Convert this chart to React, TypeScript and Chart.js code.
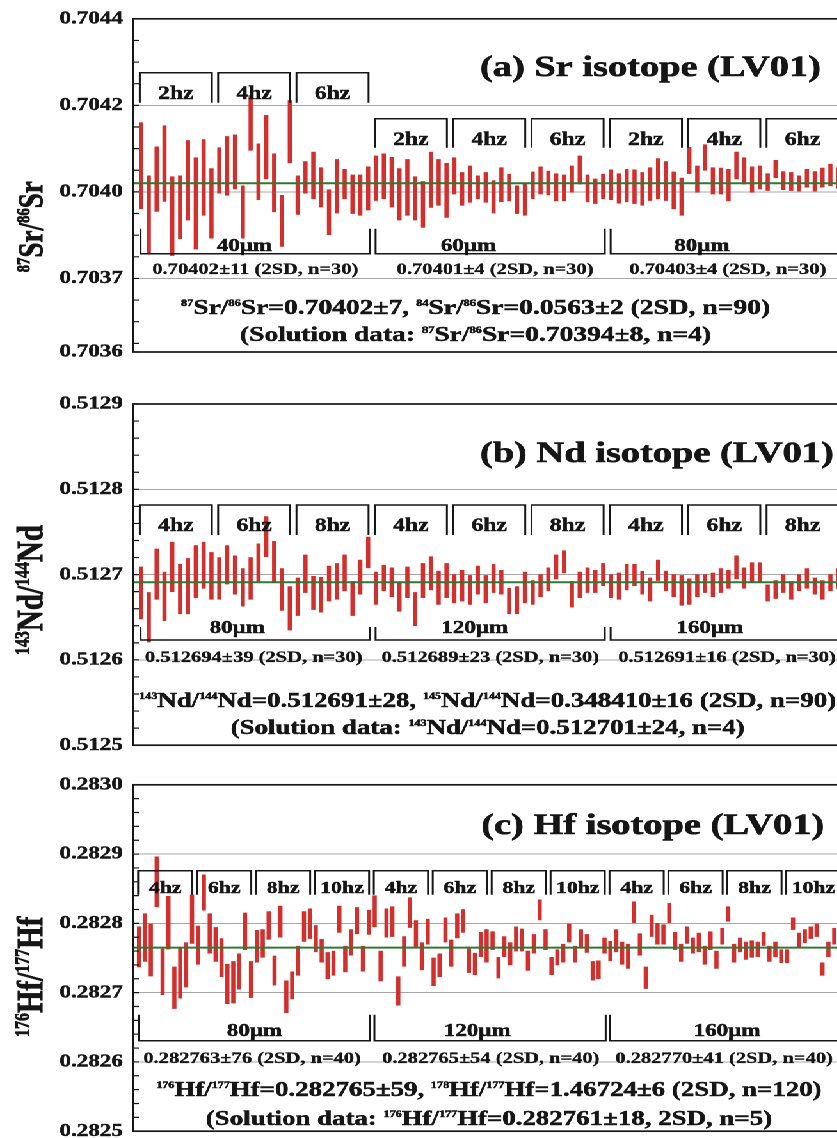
import React, { useEffect, useRef } from 'react';
import { Chart, registerables } from 'chart.js';

Chart.register(...registerables);

const SERIF = "'Liberation Serif', 'Times New Roman', Times, serif";
const INK = '#161616';
const RED = '#d32f2d';
const GREEN = '#2b7a33';
const GRID = '#a6a6a6';

// The whole sheet is drawn in a narrow coordinate system and widened horizontally.
const X_STRETCH = 1.28;
const PAGE_W = 837;
const PAGE_H = 1138;
const SHEET_W = 672;
const PLOT_LEFT = 104;
const PLOT_RIGHT_PAD = 11;

const TICK_SIZE = 18;
const TITLE_SIZE = 30;
const STATS_SIZE = 16;
const SPOT_SIZE = 18;

// ---------------- (a) Sr ----------------
const SR_RATES = ['2hz', '4hz', '6hz'];
const SR_SPOTS = ['40μm', '60μm', '80μm'];
const SR_STATS = ['0.70402±11 (2SD, n=30)', '0.70401±4 (2SD, n=30)', '0.70403±4 (2SD, n=30)'];
const SR_MEAN = 0.70402;
const SR_TICK_VALUES = [0.7044, 0.7042, 0.704, 0.7038, 0.70363];
const SR_TICK_LABELS = ['0.7044', '0.7042', '0.7040', '0.7037', '0.7036'];
const SR_GRID = [0.7042, 0.704, 0.7038];
const SR_LOW = [
  0.703961, 0.703859, 0.703955, 0.703978, 0.703853, 0.703892, 0.703935, 0.703868, 0.703946, 0.703893,
  0.703997, 0.703992, 0.704007, 0.703893, 0.704096, 0.703982, 0.70403, 0.703954, 0.703874, 0.704067,
  0.703948, 0.703997, 0.703984, 0.703965, 0.703901, 0.703951, 0.703984, 0.70395, 0.703946, 0.703958,
  0.70398, 0.703984, 0.703965, 0.703935, 0.703946, 0.703935, 0.703918, 0.703964, 0.703969, 0.703941,
  0.703995, 0.703969, 0.703976, 0.703984, 0.703976, 0.703951, 0.703977, 0.703979, 0.70395, 0.703946,
  0.703984, 0.703995, 0.703993, 0.703979, 0.703979, 0.703999, 0.704018, 0.703977, 0.703973, 0.703984,
  0.703982, 0.703974, 0.703977, 0.703973, 0.703969, 0.70398, 0.703984, 0.70398, 0.703961, 0.703946,
  0.704042, 0.703999, 0.70405, 0.703995, 0.703995, 0.703979, 0.70403, 0.704018, 0.703999, 0.704007,
  0.704003, 0.704033, 0.704005, 0.704003, 0.704002, 0.704011, 0.704002, 0.704011, 0.704014, 0.704008,
];
const SR_HIGH = [
  0.70416, 0.704037, 0.704104, 0.704153, 0.704035, 0.704037, 0.704119, 0.704079, 0.704121, 0.704054,
  0.704102, 0.704128, 0.704132, 0.704014, 0.704223, 0.704111, 0.704177, 0.704088, 0.703992, 0.704211,
  0.704037, 0.70407, 0.704092, 0.704056, 0.704005, 0.704075, 0.704052, 0.704039, 0.704039, 0.704058,
  0.704083, 0.704088, 0.70408, 0.704054, 0.704075, 0.704035, 0.704024, 0.704092, 0.704075, 0.704066,
  0.704079, 0.704045, 0.70406, 0.704037, 0.704045, 0.704026, 0.704056, 0.704041, 0.704014, 0.704018,
  0.704046, 0.704058, 0.704048, 0.704042, 0.704039, 0.70406, 0.704083, 0.704039, 0.70403, 0.704041,
  0.704051, 0.704042, 0.704052, 0.704051, 0.704045, 0.704056, 0.704077, 0.70407, 0.704046, 0.704032,
  0.704103, 0.70406, 0.704109, 0.704056, 0.704055, 0.704052, 0.704092, 0.704079, 0.704058, 0.70406,
  0.704042, 0.704073, 0.704047, 0.704045, 0.704037, 0.704052, 0.704047, 0.704055, 0.704064, 0.704056,
];

// ---------------- (b) Nd ----------------
const ND_RATES = ['4hz', '6hz', '8hz'];
const ND_SPOTS = ['80μm', '120μm', '160μm'];
const ND_STATS = ['0.512694±39 (2SD, n=30)', '0.512689±23 (2SD, n=30)', '0.512691±16 (2SD, n=30)'];
const ND_MEAN = 0.512691;
const ND_TICK_VALUES = [0.5129, 0.5128, 0.5127, 0.5126, 0.5125];
const ND_TICK_LABELS = ['0.5129', '0.5128', '0.5127', '0.5126', '0.5125'];
const ND_GRID = [0.5128, 0.5127, 0.5126];
const ND_LOW = [
  0.512648, 0.512621, 0.512671, 0.512646, 0.51268, 0.512654, 0.512654, 0.512673, 0.512684, 0.512671,
  0.512671, 0.512689, 0.512677, 0.512663, 0.512671, 0.512692, 0.512721, 0.512692, 0.512658, 0.512635,
  0.512652, 0.512679, 0.512659, 0.512656, 0.512669, 0.512671, 0.512681, 0.512652, 0.512677, 0.512708,
  0.512665, 0.512681, 0.512674, 0.512657, 0.512673, 0.51264, 0.512673, 0.512682, 0.512665, 0.512673,
  0.512667, 0.512669, 0.512665, 0.512677, 0.512667, 0.512679, 0.512677, 0.512654, 0.512654, 0.512667,
  0.512665, 0.512674, 0.512681, 0.512695, 0.512702, 0.512662, 0.512673, 0.512679, 0.512679, 0.512687,
  0.512673, 0.512671, 0.512682, 0.512687, 0.512677, 0.512669, 0.512693, 0.512681, 0.512674, 0.512664,
  0.512665, 0.512674, 0.512679, 0.512674, 0.512679, 0.512684, 0.512695, 0.512684, 0.512692, 0.512691,
  0.512669, 0.512672, 0.512679, 0.512671, 0.512681, 0.512684, 0.512677, 0.512671, 0.512681, 0.512684,
];
const ND_HIGH = [
  0.512709, 0.512679, 0.51273, 0.512703, 0.512738, 0.512712, 0.512719, 0.512734, 0.512738, 0.512726,
  0.51272, 0.512734, 0.512722, 0.512707, 0.51272, 0.512736, 0.512768, 0.512739, 0.512707, 0.512686,
  0.512696, 0.512723, 0.512698, 0.512697, 0.51271, 0.512713, 0.512723, 0.512692, 0.512717, 0.512744,
  0.512703, 0.512711, 0.512708, 0.512691, 0.512709, 0.512679, 0.512713, 0.512721, 0.512704, 0.512713,
  0.5127, 0.512705, 0.512699, 0.51271, 0.512699, 0.512712, 0.512705, 0.512684, 0.512686, 0.512703,
  0.512693, 0.5127, 0.512708, 0.512723, 0.512728, 0.512692, 0.512703, 0.512708, 0.512705, 0.512713,
  0.5127, 0.512702, 0.512712, 0.512712, 0.512704, 0.512696, 0.512717, 0.512704, 0.5127, 0.512699,
  0.512695, 0.5127, 0.5127, 0.512702, 0.512707, 0.512705, 0.512722, 0.512708, 0.512714, 0.512714,
  0.512688, 0.512693, 0.5127, 0.512692, 0.5127, 0.512707, 0.512696, 0.512693, 0.5127, 0.512707,
];

// ---------------- (c) Hf ----------------
const HF_RATES = ['4hz', '6hz', '8hz', '10hz'];
const HF_SPOTS = ['80μm', '120μm', '160μm'];
const HF_STATS = ['0.282763±76 (2SD, n=40)', '0.282765±54 (2SD, n=40)', '0.282770±41 (2SD, n=40)'];
const HF_MEAN = 0.282765;
const HF_TICK_VALUES = [0.283, 0.2829, 0.2828, 0.2827, 0.2826, 0.2825];
const HF_TICK_LABELS = ['0.2830', '0.2829', '0.2828', '0.2827', '0.2826', '0.2825'];
const HF_GRID = [0.2829, 0.2828, 0.2827, 0.2826];
const HF_LOW = [
  0.282737, 0.282745, 0.282724, 0.282824, 0.282697, 0.282763, 0.282677, 0.282692, 0.282708, 0.282771,
  0.282741, 0.282819, 0.282757, 0.282745, 0.282723, 0.282684, 0.282685, 0.282705, 0.282762, 0.282693,
  0.282744, 0.282751, 0.282777, 0.282711, 0.28278, 0.282671, 0.282691, 0.282725, 0.282774, 0.282778,
  0.282759, 0.282744, 0.28272, 0.282725, 0.282787, 0.28273, 0.282754, 0.282785, 0.282731, 0.282784,
  0.282795, 0.282717, 0.28278, 0.282781, 0.282682, 0.282738, 0.282794, 0.282765, 0.282733, 0.28277,
  0.28271, 0.282723, 0.282773, 0.282738, 0.282779, 0.282787, 0.282729, 0.282726, 0.282752, 0.282744,
  0.282762, 0.282721, 0.282752, 0.28274, 0.28276, 0.28276, 0.282732, 0.282757, 0.282805, 0.282762,
  0.282726, 0.28274, 0.282744, 0.282773, 0.282744, 0.282765, 0.282758, 0.282718, 0.28272, 0.282757,
  0.282746, 0.282759, 0.282741, 0.282735, 0.282801, 0.282754, 0.282706, 0.282781, 0.28277, 0.28277,
  0.282801, 0.282762, 0.282745, 0.282771, 0.282757, 0.282759, 0.282741, 0.282762, 0.282735, 0.28277,
  0.282803, 0.282744, 0.282759, 0.282748, 0.282751, 0.282752, 0.282768, 0.282745, 0.282752, 0.282743,
  0.282743, 0.282791, 0.282765, 0.282772, 0.282778, 0.282781, 0.282725, 0.282752, 0.28277, 0.282772,
];
const HF_HIGH = [
  0.282795, 0.282814, 0.282799, 0.282896, 0.282763, 0.282839, 0.282737, 0.282765, 0.282772, 0.282841,
  0.282796, 0.28287, 0.282814, 0.282794, 0.282778, 0.282741, 0.282745, 0.282756, 0.282815, 0.282745,
  0.28279, 0.282791, 0.282817, 0.282753, 0.282825, 0.282717, 0.28273, 0.282767, 0.282817, 0.282821,
  0.282797, 0.282777, 0.282758, 0.28276, 0.282825, 0.282767, 0.282791, 0.282823, 0.282767, 0.282819,
  0.28284, 0.28276, 0.282821, 0.282824, 0.282723, 0.282781, 0.282837, 0.282804, 0.282772, 0.282806,
  0.28275, 0.282756, 0.282808, 0.282776, 0.282814, 0.28282, 0.282763, 0.282757, 0.282787, 0.282791,
  0.282788, 0.282751, 0.282781, 0.282772, 0.282795, 0.282792, 0.28276, 0.282784, 0.282834, 0.282791,
  0.282751, 0.282762, 0.28277, 0.282799, 0.282767, 0.282791, 0.282784, 0.282745, 0.282746, 0.282779,
  0.282774, 0.282791, 0.282773, 0.28277, 0.282831, 0.282785, 0.282737, 0.282812, 0.2828, 0.282798,
  0.282829, 0.282787, 0.28277, 0.282795, 0.282779, 0.282786, 0.282767, 0.282788, 0.28276, 0.282793,
  0.282824, 0.28277, 0.282779, 0.282773, 0.282775, 0.282773, 0.282787, 0.282767, 0.282773, 0.282762,
  0.282762, 0.282808, 0.282786, 0.282791, 0.282795, 0.282799, 0.282743, 0.282773, 0.282793, 0.282795,
];

type Row = { top: number; bottom: number; base: number };
interface PanelSpec {
  key: string;
  low: number[];
  high: number[];
  mean: number;
  yMin: number;
  yMax: number;
  minorStep: number;
  tickValues: number[];
  tickLabels: string[];
  gridValues: number[];
  rates: string[];
  spots: string[];
  stats: string[];
  title: string;
  axisTitle: string;
  summary: string[];
  perSpot: number;
  perRate: number;
  rateSize: number;
  axisTitleSize: number;
  summarySize: number;
  top: number;
  height: number;
  padTop: number;
  padBottom: number;
  rateRows: Row[];
  spotRow: { vtop: number; line: number; base: number };
  spotLabelX: number[];
  statsX: number[];
  statsBase: number;
  summaryX: number;
  summaryBase: number[];
  titleX: number;
  titleBase: number;
  axisTitleY: number;
}

const PANELS: PanelSpec[] = [
  {
    key: 'sr', low: SR_LOW, high: SR_HIGH, mean: SR_MEAN,
    yMin: 0.70363, yMax: 0.7044, minorStep: 0.00005,
    tickValues: SR_TICK_VALUES, tickLabels: SR_TICK_LABELS, gridValues: SR_GRID,
    rates: SR_RATES, spots: SR_SPOTS, stats: SR_STATS,
    title: '(a) Sr isotope (LV01)',
    axisTitle: '{87}Sr/{86}Sr',
    summary: ['{87}Sr/{86}Sr=0.70402±7, {84}Sr/{86}Sr=0.0563±2 (2SD, n=90)', '(Solution data: {87}Sr/{86}Sr=0.70394±8, n=4)'],
    perSpot: 30, perRate: 10, rateSize: 18.5, axisTitleSize: 27, summarySize: 21.5,
    top: 0, height: 372, padTop: 13, padBottom: 20,
    rateRows: [
      { top: 54, bottom: 84, base: 80 },
      { top: 100, bottom: 129, base: 126 },
      { top: 100, bottom: 129, base: 126 },
    ],
    spotRow: { vtop: 210, line: 235, base: 232 },
    spotLabelX: [14.2, 42.8, 72.6],
    statsX: [15.6, 46.2, 75.9],
    statsBase: 255,
    summaryX: 371.5, summaryBase: [295, 322],
    titleX: 375, titleBase: 57, axisTitleY: 208,
  },
  {
    key: 'nd', low: ND_LOW, high: ND_HIGH, mean: ND_MEAN,
    yMin: 0.5125, yMax: 0.5129, minorStep: 0.00002,
    tickValues: ND_TICK_VALUES, tickLabels: ND_TICK_LABELS, gridValues: ND_GRID,
    rates: ND_RATES, spots: ND_SPOTS, stats: ND_STATS,
    title: '(b) Nd isotope (LV01)',
    axisTitle: '{143}Nd/{144}Nd',
    summary: ['{143}Nd/{144}Nd=0.512691±28, {145}Nd/{144}Nd=0.348410±16 (2SD, n=90)', '(Solution data: {143}Nd/{144}Nd=0.512701±24, n=4)'],
    perSpot: 30, perRate: 10, rateSize: 18.5, axisTitleSize: 29, summarySize: 21,
    top: 376, height: 388, padTop: 28, padBottom: 12,
    rateRows: [
      { top: 101, bottom: 131, base: 127 },
      { top: 101, bottom: 131, base: 127 },
      { top: 101, bottom: 131, base: 127 },
    ],
    spotRow: { vtop: 223, line: 236, base: 229 },
    spotLabelX: [13.3, 43.6, 73.6],
    statsX: [15.4, 45.6, 75.8],
    statsBase: 258,
    summaryX: 381, summaryBase: [303, 330],
    titleX: 375, titleBase: 58, axisTitleY: 186,
  },
  {
    key: 'hf', low: HF_LOW, high: HF_HIGH, mean: HF_MEAN,
    yMin: 0.2825, yMax: 0.283, minorStep: 0.00002,
    tickValues: HF_TICK_VALUES, tickLabels: HF_TICK_LABELS, gridValues: HF_GRID,
    rates: HF_RATES, spots: HF_SPOTS, stats: HF_STATS,
    title: '(c) Hf isotope (LV01)',
    axisTitle: '{176}Hf/{177}Hf',
    summary: ['{176}Hf/{177}Hf=0.282765±59, {178}Hf/{177}Hf=1.46724±6 (2SD, n=120)', '(Solution data: {176}Hf/{177}Hf=0.282761±18, 2SD, n=5)'],
    perSpot: 40, perRate: 10, rateSize: 17, axisTitleSize: 29, summarySize: 21,
    top: 766, height: 384, padTop: 17, padBottom: 12,
    rateRows: [
      { top: 86, bottom: 110, base: 108 },
      { top: 86, bottom: 110, base: 108 },
      { top: 86, bottom: 110, base: 108 },
    ],
    spotRow: { vtop: 230, line: 256, base: 251 },
    spotLabelX: [20.6, 58.4, 100.8],
    statsX: [20.2, 60.7, 100.3],
    statsBase: 278,
    summaryX: 382, summaryBase: [311, 340],
    titleX: 376, titleBase: 49, axisTitleY: 192,
  },
];

const font = (size: number) => `bold ${size}px ${SERIF}`;
const near = (a: number, b: number) => Math.abs(a - b) < 1e-9;

// Filled text with a hairline outline in the same ink, for a heavier print look.
function inkText(ctx: CanvasRenderingContext2D, s: string, x: number, y: number) {
  ctx.fillText(s, x, y);
  ctx.strokeText(s, x, y);
}

// Draws text with {…} segments as superscripts; (x, y) is the baseline anchor.
function drawRich(
  ctx: CanvasRenderingContext2D,
  text: string,
  x: number,
  y: number,
  size: number,
  supRatio: number,
  align: 'left' | 'center',
) {
  const parts: { t: string; sup: boolean }[] = [];
  const re = /\{([^}]*)\}|([^{]+)/g;
  let m: RegExpExecArray | null;
  while ((m = re.exec(text))) {
    if (m[1] !== undefined) parts.push({ t: m[1], sup: true });
    else parts.push({ t: m[2], sup: false });
  }
  const supSize = size * supRatio;
  const widths = parts.map((p) => {
    ctx.font = font(p.sup ? supSize : size);
    return ctx.measureText(p.t).width;
  });
  const total = widths.reduce((s, w) => s + w, 0);
  let cx = align === 'center' ? x - total / 2 : x;
  ctx.textAlign = 'left';
  ctx.textBaseline = 'alphabetic';
  parts.forEach((p, i) => {
    ctx.font = font(p.sup ? supSize : size);
    inkText(ctx, p.t, cx, p.sup ? y - size * 0.37 : y);
    cx += widths[i];
  });
}

function makeDecor(p: PanelSpec) {
  return {
    id: 'decor_' + p.key,
    afterDraw(chart: any) {
      const ctx: CanvasRenderingContext2D = chart.ctx;
      const a = chart.chartArea;
      const xs = chart.scales.x;
      const ys = chart.scales.y;
      const X = (v: number) => xs.getPixelForValue(v);
      const T = (off: number) => a.top + off;
      ctx.save();
      ctx.strokeStyle = INK;
      ctx.fillStyle = INK;

      // inward tick marks on the left axis
      ctx.lineWidth = 1.2;
      ctx.beginPath();
      for (const t of ys.ticks) {
        const y = ys.getPixelForValue(t.value);
        ctx.moveTo(a.left, y);
        ctx.lineTo(a.left + 4.5, y);
      }
      ctx.stroke();

      // plot frame
      ctx.lineWidth = 1.7;
      ctx.strokeRect(a.left, a.top, a.right - a.left, a.bottom - a.top);

      // laser-rate brackets (top) and spot-size brackets (bottom)
      p.spots.forEach((spot, g) => {
        const first = g * p.perSpot + 1;
        const last = first + p.perSpot - 1;
        const row = p.rateRows[g];
        p.rates.forEach((rate, r) => {
          const b0 = first + r * p.perRate;
          const b1 = b0 + p.perRate - 1;
          const x0 = X(b0 - 0.15);
          const x1 = X(b1 + 0.05);
          ctx.lineWidth = 1.5;
          ctx.beginPath();
          ctx.moveTo(x0, T(row.bottom));
          ctx.lineTo(x0, T(row.top));
          ctx.lineTo(x1, T(row.top));
          ctx.lineTo(x1, T(row.bottom));
          ctx.stroke();
          ctx.lineWidth = 0.45;
          ctx.font = font(p.rateSize);
          ctx.textAlign = 'center';
          ctx.textBaseline = 'alphabetic';
          inkText(ctx, rate, (x0 + x1) / 2, T(row.base));
        });
        const s0 = X(first - 0.05);
        const s1 = X(last + 0.2);
        ctx.lineWidth = 1.5;
        ctx.beginPath();
        ctx.moveTo(s0, T(p.spotRow.vtop));
        ctx.lineTo(s0, T(p.spotRow.line));
        ctx.lineTo(s1, T(p.spotRow.line));
        ctx.lineTo(s1, T(p.spotRow.vtop));
        ctx.stroke();
        ctx.lineWidth = 0.45;
        ctx.font = font(SPOT_SIZE);
        ctx.textAlign = 'center';
        inkText(ctx, spot, X(p.spotLabelX[g]), T(p.spotRow.base));
        ctx.lineWidth = 0.3;
        ctx.font = font(STATS_SIZE);
        inkText(ctx, p.stats[g], X(p.statsX[g]), T(p.statsBase));
      });

      // overall results
      ctx.lineWidth = 0.5;
      p.summary.forEach((line, i) =>
        drawRich(ctx, line, p.summaryX, T(p.summaryBase[i]), p.summarySize, 0.45, 'center'),
      );

      // panel title
      ctx.lineWidth = 0.6;
      ctx.font = font(TITLE_SIZE);
      ctx.textAlign = 'left';
      ctx.textBaseline = 'alphabetic';
      inkText(ctx, p.title, p.titleX, T(p.titleBase));

      // rotated y-axis title
      ctx.save();
      ctx.translate(33, T(p.axisTitleY));
      ctx.rotate(-Math.PI / 2);
      ctx.lineWidth = 0.6;
      drawRich(ctx, p.axisTitle, 0, 0, p.axisTitleSize, 0.55, 'center');
      ctx.restore();

      ctx.restore();
    },
  };
}

function buildTicks(p: PanelSpec): number[] {
  const out: number[] = [...p.tickValues];
  const n = Math.round((p.yMax - p.yMin) / p.minorStep);
  for (let k = 1; k <= n; k++) {
    const v = Math.round((p.yMax - k * p.minorStep) * 1e8) / 1e8;
    if (v <= p.yMin + 1e-9) break;
    if (!out.some((t) => near(t, v))) out.push(v);
  }
  return out.sort((a, b) => a - b);
}

function PanelChart({ spec }: { spec: PanelSpec }) {
  const ref = useRef<HTMLCanvasElement>(null);
  useEffect(() => {
    const n = spec.low.length;
    const tickList = buildTicks(spec);
    const chart = new Chart(ref.current as HTMLCanvasElement, {
      type: 'bar',
      data: {
        datasets: [
          {
            type: 'line',
            data: [
              { x: 0, y: spec.mean },
              { x: n + 1, y: spec.mean },
            ],
            borderColor: GREEN,
            borderWidth: 2,
            pointRadius: 0,
            order: 0,
          } as any,
          {
            type: 'bar',
            data: spec.low.map((lo, i) => ({ x: i + 1, y: [lo, spec.high[i]] })),
            backgroundColor: RED,
            borderWidth: 0,
            barThickness: 2.6,
            grouped: false,
            order: 1,
          } as any,
        ],
      },
      options: {
        animation: false,
        responsive: true,
        maintainAspectRatio: false,
        devicePixelRatio: 2,
        events: [],
        layout: { padding: { top: spec.padTop, bottom: spec.padBottom, left: 0, right: PLOT_RIGHT_PAD } },
        plugins: { legend: { display: false }, tooltip: { enabled: false }, title: { display: false } },
        scales: {
          x: { type: 'linear', min: 0, max: n + 1, offset: false, display: false },
          y: {
            type: 'linear',
            min: spec.yMin,
            max: spec.yMax,
            bounds: 'data',
            afterBuildTicks: (scale: any) => {
              scale.ticks = tickList.map((v) => ({ value: v }));
            },
            afterFit: (scale: any) => {
              scale.width = PLOT_LEFT;
            },
            ticks: {
              autoSkip: false,
              padding: 8,
              color: INK,
              textStrokeColor: INK,
              textStrokeWidth: 0.4,
              font: { family: SERIF, size: TICK_SIZE, weight: 'bold' },
              callback: (value: any) => {
                const idx = spec.tickValues.findIndex((t) => near(t, Number(value)));
                return idx >= 0 ? spec.tickLabels[idx] : '';
              },
            },
            grid: {
              drawTicks: false,
              lineWidth: 1,
              color: (c: any) =>
                c.tick && spec.gridValues.some((g) => near(g, c.tick.value)) ? GRID : 'rgba(0,0,0,0)',
            },
            border: { display: false },
          },
        },
      } as any,
      plugins: [makeDecor(spec)],
    });
    return () => chart.destroy();
  }, [spec]);
  return (
    <div style={{ position: 'absolute', left: 0, top: spec.top, width: SHEET_W, height: spec.height }}>
      <canvas ref={ref} />
    </div>
  );
}

export default function App() {
  return (
    <div
      style={{
        position: 'fixed',
        left: 0,
        top: 0,
        width: PAGE_W,
        height: PAGE_H,
        overflow: 'hidden',
        background: '#ffffff',
      }}
    >
      <div
        style={{
          position: 'absolute',
          left: 0,
          top: 0,
          width: SHEET_W,
          height: PAGE_H + 20,
          transform: `scaleX(${X_STRETCH})`,
          transformOrigin: '0 0',
        }}
      >
        {PANELS.map((p) => (
          <PanelChart key={p.key} spec={p} />
        ))}
      </div>
    </div>
  );
}
